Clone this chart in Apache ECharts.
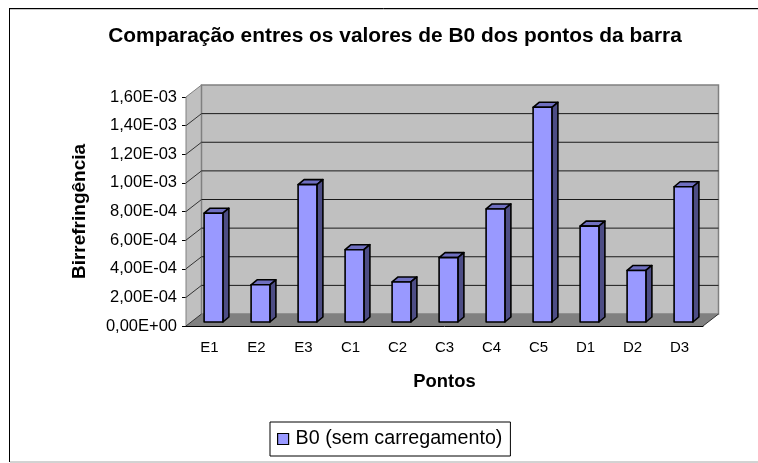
<!DOCTYPE html>
<html>
<head>
<meta charset="utf-8">
<style>
html, body { margin: 0; padding: 0; background: #fff; }
#chart { width: 758px; height: 463px; }
</style>
<script src="https://cdn.jsdelivr.net/npm/echarts@6/dist/echarts.min.js"></script>
</head>
<body>
<div id="chart"></div>
<script>
const categories = ['E1', 'E2', 'E3', 'C1', 'C2', 'C3', 'C4', 'C5', 'D1', 'D2', 'D3'];
const b0Values = [7.6e-4, 2.6e-4, 9.6e-4, 5.05e-4, 2.8e-4, 4.5e-4, 7.9e-4, 1.5e-3, 6.7e-4, 3.6e-4, 9.45e-4];
const tickValues = [0, 2e-4, 4e-4, 6e-4, 8e-4, 1e-3, 1.2e-3, 1.4e-3, 1.6e-3];
const tickLabels = ['0,00E+00', '2,00E-04', '4,00E-04', '6,00E-04', '8,00E-04', '1,00E-03', '1,20E-03', '1,40E-03', '1,60E-03'];

const fontName = '"Liberation Sans", Arial, sans-serif';
// profundidade do "3D" do Excel
const wallDx = 15.5, wallDy = -12;
const barDx = 4, barDy = -4, barSideX = 6, barSideY = -5;

function renderWalls(params, api) {
	let cs = params.coordSys
	let left = cs.x, right = cs.x + cs.width
	let y = api.coord([0, api.value(0)])[1]
	let line = (x1, y1, x2, y2, color) => ({
		type: 'line',
		shape: { x1: x1, y1: y1, x2: x2, y2: y2 },
		style: { stroke: color, lineWidth: 1 }
	})
	let items = []
	if (params.dataIndex === 0) {
		let top = cs.y, bottom = cs.y + cs.height
		items.push({
			type: 'polygon',
			shape: { points: [[left, top], [left + wallDx, top + wallDy], [left + wallDx, bottom + wallDy], [left, bottom]] },
			style: { fill: '#c0c0c0' }
		})
		items.push({
			type: 'rect',
			shape: { x: left + wallDx, y: top + wallDy, width: cs.width, height: cs.height },
			style: { fill: '#c0c0c0', stroke: '#808080', lineWidth: 1.5 }
		})
		items.push({
			type: 'polygon',
			shape: { points: [[left, bottom], [left + wallDx, bottom + wallDy], [right + wallDx, bottom + wallDy], [right, bottom]] },
			style: { fill: '#808080' }
		})
		items.push(line(left, top, left, bottom, '#808080'))
		items.push(line(right, bottom, right + wallDx, bottom + wallDy, '#333'))
	}
	let last = params.dataIndex === tickValues.length - 1
	if (params.dataIndex > 0 && !last) {
		items.push(line(left + wallDx, y + wallDy, right + wallDx, y + wallDy, '#1a1a1a'))
	}
	items.push(line(left, y, left + wallDx, y + wallDy, last ? '#808080' : '#333'))
	return { type: 'group', silent: true, children: items }
}

function renderBar(params, api) {
	let idx = api.value(0)
	let top = api.coord([idx, api.value(1)])
	let base = api.coord([idx, 0])
	let w = api.size([1, 0])[0] * 0.4
	let x0 = top[0] - w / 2 + barDx, x1 = x0 + w
	let y0 = top[1] + barDy, y1 = base[1] + barDy
	let edge = { stroke: '#000', lineWidth: 1.6, lineJoin: 'round' }
	return {
		type: 'group',
		children: [
			{
				type: 'polygon',
				shape: { points: [[x0, y0], [x0 + barSideX, y0 + barSideY], [x1 + barSideX, y0 + barSideY], [x1, y0]] },
				style: Object.assign({ fill: '#6f6fc0' }, edge)
			},
			{
				type: 'polygon',
				shape: { points: [[x1, y0], [x1 + barSideX, y0 + barSideY], [x1 + barSideX, y1 + barSideY], [x1, y1]] },
				style: Object.assign({ fill: '#4d4d85' }, edge)
			},
			{
				type: 'rect',
				shape: { x: x0, y: y0, width: w, height: y1 - y0 },
				style: Object.assign({ fill: '#9999ff' }, edge)
			}
		]
	}
}

let myChart = echarts.init(document.getElementById('chart'), null, { renderer: 'canvas' })
myChart.setOption({
	animation: false,
	backgroundColor: '#fff',
	textStyle: { fontFamily: fontName },
	title: {
		text: 'Comparação entres os valores de B0 dos pontos da barra',
		left: 390,
		top: 21,
		textAlign: 'center',
		textStyle: { fontFamily: fontName, fontSize: 20.9, fontWeight: 'bold', color: '#000' }
	},
	legend: {
		data: [{ name: 'B0 (sem carregamento)', icon: 'rect' }],
		left: 270,
		top: 422,
		padding: [7, 8, 7, 7],
		itemWidth: 11,
		itemHeight: 11,
		itemGap: 6,
		borderColor: '#000',
		borderWidth: 1,
		backgroundColor: '#fff',
		itemStyle: { color: '#9999ff', borderColor: '#000', borderWidth: 1.2 },
		textStyle: { fontFamily: fontName, fontSize: 19.7, color: '#000', padding: [0, 0, 0, 2] }
	},
	grid: { left: 186, top: 97, width: 517, height: 229 },
	xAxis: {
		type: 'category',
		data: categories,
		name: 'Pontos',
		nameLocation: 'middle',
		nameGap: 47,
		nameTextStyle: { fontFamily: fontName, fontSize: 18.4, fontWeight: 'bold', color: '#000' },
		axisLine: { lineStyle: { color: '#000', width: 1 } },
		axisTick: { length: 4, lineStyle: { color: '#000' } },
		axisLabel: { margin: 14, fontSize: 15, color: '#000' }
	},
	yAxis: {
		type: 'value',
		min: 0,
		max: 1.6e-3,
		interval: 2e-4,
		name: 'Birrefringência',
		nameLocation: 'middle',
		nameGap: 97,
		nameTextStyle: { fontFamily: fontName, fontSize: 19, fontWeight: 'bold', color: '#000' },
		axisLine: { show: false },
		axisTick: { show: true, length: 4, lineStyle: { color: '#000' } },
		splitLine: { show: false },
		axisLabel: {
			margin: 9,
			fontSize: 16.5,
			color: '#000',
			formatter: function (val) {
				return tickLabels[Math.round(val / 2e-4)]
			}
		}
	},
	graphic: [
		{ type: 'line', shape: { x1: 9.5, y1: 8.5, x2: 758, y2: 8.5 }, style: { stroke: '#000', lineWidth: 1 } },
		{ type: 'line', shape: { x1: 9, y1: 9.5, x2: 758, y2: 9.5 }, style: { stroke: '#c8c8c8', lineWidth: 1 } },
		{ type: 'line', shape: { x1: 9.5, y1: 8, x2: 9.5, y2: 462 }, style: { stroke: '#000', lineWidth: 1 } },
		{ type: 'line', shape: { x1: 10, y1: 462, x2: 758, y2: 462 }, style: { stroke: '#a6a6a6', lineWidth: 1 } }
	],
	series: [
		{
			name: 'paredes',
			type: 'custom',
			renderItem: renderWalls,
			data: tickValues.map(v => [v]),
			encode: { y: 0 },
			clip: false,
			silent: true,
			z: 1
		},
		{
			name: 'B0 (sem carregamento)',
			type: 'custom',
			renderItem: renderBar,
			data: b0Values.map((v, i) => [i, v]),
			encode: { x: 0, y: 1 },
			clip: false,
			z: 3
		}
	]
})
</script>
</body>
</html>
